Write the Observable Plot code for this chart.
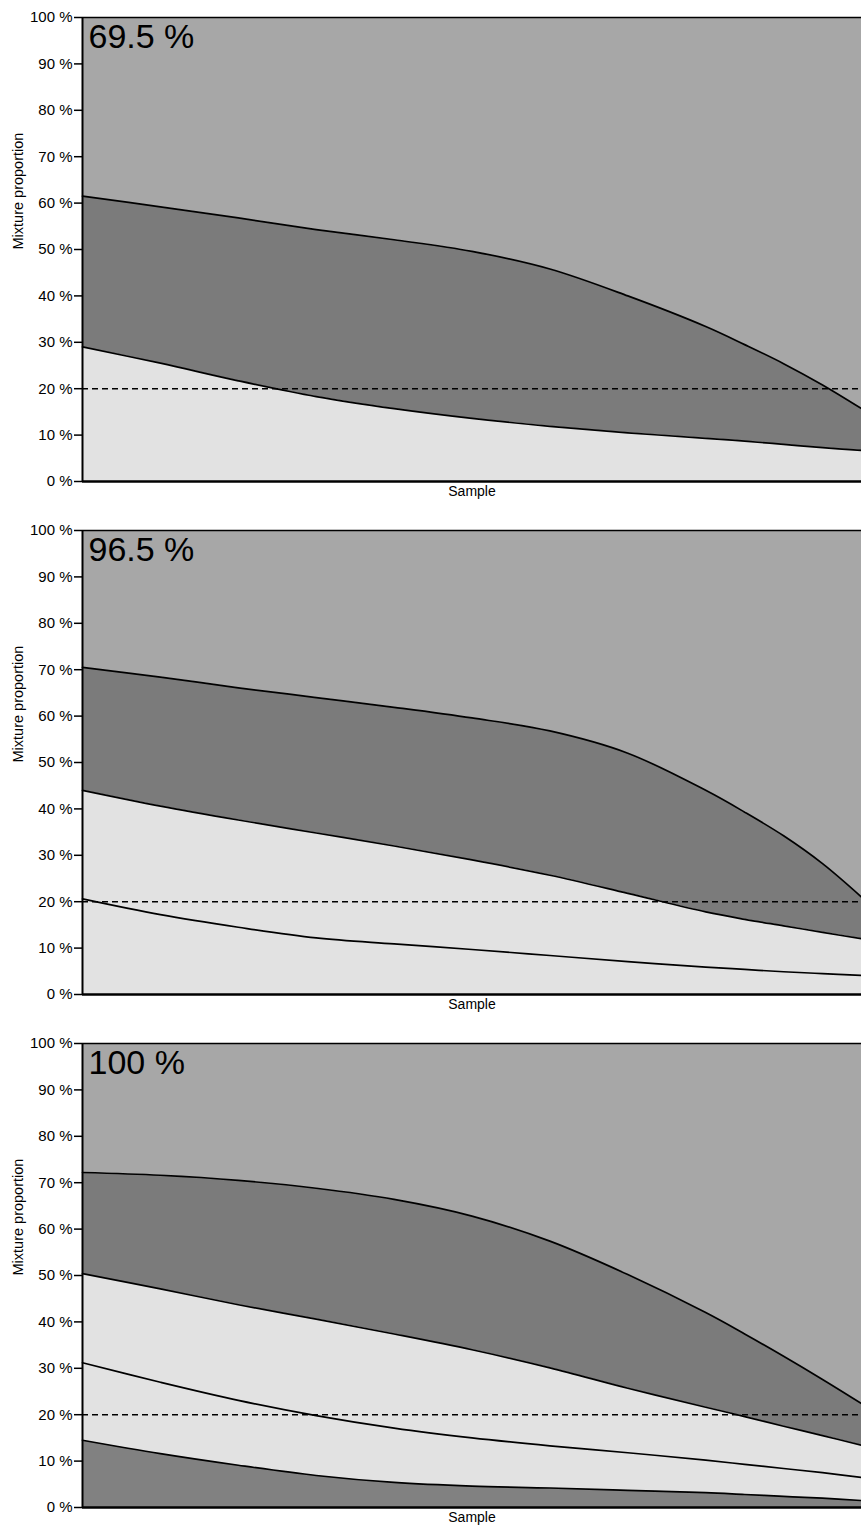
<!DOCTYPE html>
<html>
<head>
<meta charset="utf-8">
<script src="https://cdn.jsdelivr.net/npm/d3@7"></script>
<script src="https://cdn.jsdelivr.net/npm/@observablehq/plot@0.6"></script>
<style>
  body { margin: 0; background: white; }
  svg { display: block; }
</style>
</head>
<body>
<div id="chart"></div>
<script>
// Sample positions (percent of the sample axis)
const samples = [0, 10, 20, 30, 40, 50, 60, 70, 80, 85, 90, 95, 100];
const yTicks = [0, 10, 20, 30, 40, 50, 60, 70, 80, 90, 100];
const panelLabels = ["69.5 %", "96.5 %", "100 %"];
const threshold = 20;

// Panel 1 boundaries (bottom to top)
const p1Lower = [29, 25.5, 21.7, 18.3, 15.7, 13.6, 11.9, 10.5, 9.3, 8.7, 8, 7.3, 6.7];
const p1Upper = [61.5, 59.2, 56.8, 54.3, 52.1, 49.6, 45.8, 40, 33.4, 29.5, 25.4, 20.8, 15.7];

// Panel 2 boundaries
const p2Lower = [20.6, 17.2, 14.5, 12.2, 10.9, 9.7, 8.4, 7.1, 5.9, 5.4, 4.9, 4.5, 4.1];
const p2Middle = [44, 40.6, 37.6, 34.8, 32, 29, 25.7, 21.8, 17.8, 16.2, 14.8, 13.4, 12];
const p2Upper = [70.5, 68.4, 66.1, 64, 61.9, 59.6, 56.8, 52, 44, 39.3, 34.2, 28.2, 21];

// Panel 3 boundaries
const p3C = [14.5, 11.6, 9.1, 6.9, 5.4, 4.6, 4.2, 3.7, 3.2, 2.8, 2.4, 2, 1.5];
const p3B = [31.2, 27, 23.1, 19.8, 17.1, 15, 13.3, 11.8, 10.2, 9.3, 8.4, 7.5, 6.5];
const p3A = [50.4, 47.1, 43.7, 40.6, 37.4, 34, 30.1, 25.7, 21.6, 19.6, 17.5, 15.5, 13.4];
const p3Top = [72.2, 71.6, 70.5, 68.8, 66.4, 62.8, 57.4, 50.2, 42, 37.4, 32.6, 27.6, 22.4];

const MID = "#a7a7a7", DARK = "#7b7b7b", LIGHT = "#e2e2e2", BOTTOM = "#818181";

const panels = [
  {label: panelLabels[0], bounds: [p1Lower, p1Upper], fills: [LIGHT, DARK, MID]},
  {label: panelLabels[1], bounds: [p2Lower, p2Middle, p2Upper], fills: [LIGHT, LIGHT, DARK, MID]},
  {label: panelLabels[2], bounds: [p3C, p3B, p3A, p3Top], fills: [BOTTOM, LIGHT, LIGHT, DARK, MID]}
];

const font = "'Liberation Sans', Arial, sans-serif";
const curve = "catmull-rom";

function makePanel(p) {
  const n = p.bounds.length;
  const marks = [];
  for (let i = 0; i <= n; i++) {
    const rows = samples.map((s, j) => ({
      x: s,
      y1: i === 0 ? 0 : p.bounds[i - 1][j],
      y2: i === n ? 100 : p.bounds[i][j]
    }));
    marks.push(Plot.areaY(rows, {x: "x", y1: "y1", y2: "y2", fill: p.fills[i], curve}));
  }
  marks.push(Plot.ruleY([threshold], {stroke: "black", strokeWidth: 1.6, strokeDasharray: "6,4"}));
  for (const arr of p.bounds) {
    const rows = samples.map((s, j) => ({x: s, y: arr[j]}));
    marks.push(Plot.line(rows, {x: "x", y: "y", stroke: "black", strokeWidth: 1.7, curve}));
  }
  marks.push(Plot.ruleY([0], {stroke: "black", strokeWidth: 2.5}));
  marks.push(Plot.ruleY([100], {stroke: "black", strokeWidth: 1.5}));
  marks.push(Plot.ruleX([0], {stroke: "black", strokeWidth: 2}));
  marks.push(Plot.axisY(yTicks, {
    tickSize: 8, tickPadding: 2, tickFormat: d => d + " %",
    fontSize: 15, strokeWidth: 1.5, label: null
  }));
  marks.push(Plot.text([p.label], {
    frameAnchor: "top-left", dx: 6, dy: 6, textAnchor: "start", lineAnchor: "top",
    fontSize: 34, fill: "black"
  }));
  marks.push(Plot.text(["Sample"], {
    frameAnchor: "bottom", dy: 10, lineAnchor: "middle", fontSize: 14, fill: "black"
  }));
  marks.push(Plot.text(["Mixture proportion"], {
    frameAnchor: "left", dx: -64, rotate: -90, fontSize: 14.5, fill: "black"
  }));
  return Plot.plot({
    width: 861,
    height: 513,
    marginTop: 17,
    marginBottom: 32,
    marginLeft: 82,
    marginRight: 0,
    x: {domain: [0, 100], axis: null},
    y: {domain: [0, 100], axis: null},
    style: {fontFamily: font, fontSize: "15px", color: "black", background: "white", overflow: "visible"},
    marks
  });
}

const container = document.getElementById("chart");
for (const p of panels) container.appendChild(makePanel(p));
</script>
</body>
</html>
